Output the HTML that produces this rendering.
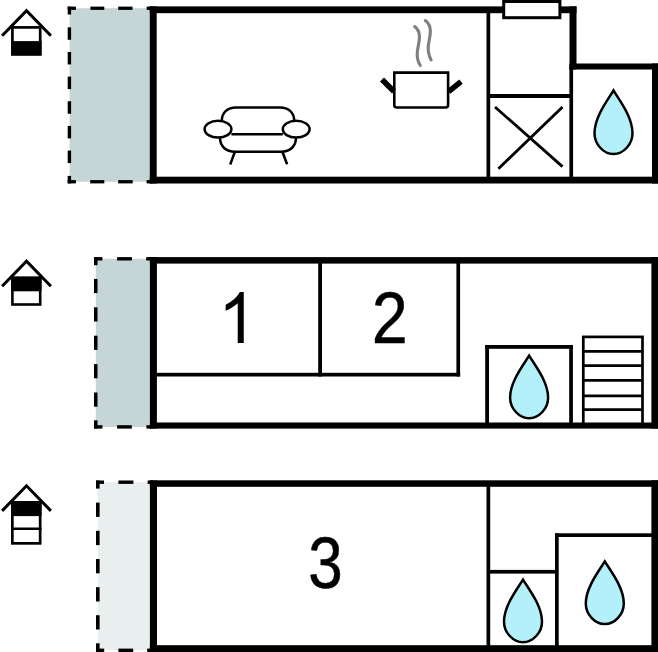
<!DOCTYPE html>
<html>
<head>
<meta charset="utf-8">
<title>Floor plan</title>
<style>
html,body{margin:0;padding:0;background:#fff;}
body{width:658px;height:652px;overflow:hidden;font-family:"Liberation Sans",sans-serif;}
svg{display:block;}
text{font-family:"Liberation Sans",sans-serif;fill:#000;}
</style>
</head>
<body>
<svg width="658" height="652" viewBox="0 0 658 652">
<defs>
  <path id="drop" d="M0 2.8 C-5.2 11.5,-19 29,-19 45.5 C-19 56.5,-10 66.3,0 66.3 C10 66.3,19 56.5,19 45.5 C19 29,5.2 11.5,0 2.8Z" fill="#b3f0f9" stroke="#000" stroke-width="2.5" stroke-linejoin="miter"/>
  <g id="roof" fill="none" stroke="#000" stroke-width="3" stroke-linecap="butt" stroke-linejoin="miter">
    <path d="M2.1 35.7 L26.5 10.6 L50.9 35.7"/>
  </g>
</defs>
<rect width="658" height="652" fill="#fff"/>

<!-- ================= FLOOR 1 ================= -->
<g id="f1">
  <rect x="69.6" y="8.2" width="81" height="173.6" fill="#c6d5d6"/>
  <!-- dashed -->
  <g fill="#000">
    <rect x="67.7" y="6.6" width="8.2" height="3.3"/>
    <rect x="67.7" y="6.6" width="3.4" height="7.9"/>
    <rect x="90.4" y="6.6" width="13.9" height="3.3"/>
    <rect x="118.2" y="6.6" width="14.3" height="3.3"/>
    <rect x="146.7" y="6.6" width="5" height="3.3"/>
    <rect x="67.7" y="27.3" width="3.4" height="12.5"/>
    <rect x="67.7" y="51.95" width="3.4" height="12.5"/>
    <rect x="67.7" y="76.6" width="3.4" height="12.5"/>
    <rect x="67.7" y="101.25" width="3.4" height="12.5"/>
    <rect x="67.7" y="125.9" width="3.4" height="12.5"/>
    <rect x="67.7" y="150.55" width="3.4" height="12.5"/>
    <rect x="67.7" y="175.9" width="3.4" height="7.5"/>
    <rect x="67.7" y="180.1" width="8.2" height="3.3"/>
    <rect x="90.2" y="180.1" width="14.1" height="3.3"/>
    <rect x="118.2" y="180.1" width="14.5" height="3.3"/>
    <rect x="146.6" y="180.1" width="5" height="3.3"/>
  </g>
  <!-- thick walls -->
  <g fill="#000">
    <rect x="149.8" y="6.4" width="426.7" height="6.8"/>
    <rect x="149.8" y="6.4" width="6.9" height="177.1"/>
    <rect x="149.8" y="176.7" width="508.2" height="6.8"/>
    <rect x="569.5" y="6.4" width="7" height="63.1"/>
    <rect x="569.5" y="63.5" width="88.5" height="6"/>
    <rect x="652" y="63.5" width="6" height="120"/>
    <!-- thin -->
    <rect x="486.5" y="10" width="3.7" height="170"/>
    <rect x="569.4" y="66" width="3.7" height="114"/>
    <rect x="488" y="94" width="83" height="4"/>
  </g>
  <!-- window -->
  <rect x="503.7" y="1.5" width="56.2" height="16.2" fill="#fff" stroke="#000" stroke-width="3"/>
  <!-- X -->
  <g stroke="#000" stroke-width="2.8" fill="none">
    <line x1="495" y1="107" x2="562.5" y2="166.6"/>
    <line x1="562.5" y1="107" x2="498.4" y2="168.7"/>
  </g>
  <!-- drop -->
  <use href="#drop" x="613.5" y="87.7"/>
  <!-- sofa -->
  <g fill="none" stroke="#000" stroke-width="2.5" stroke-linecap="butt">
    <path d="M221.8 121 L221.8 121 C221.8 112,228 107.5,236 107.5 L280 107.5 C288 107.5,294.2 112,294.2 121"/>
    <ellipse cx="218" cy="129.2" rx="13.4" ry="8.4" fill="#fff"/>
    <ellipse cx="296.2" cy="129.2" rx="13.4" ry="8.4" fill="#fff"/>
    <line x1="231.4" y1="134.2" x2="282.8" y2="134.2"/>
    <path d="M220 137.6 C220 146.5,226 151.7,235 151.7 L281 151.7 C290 151.7,296 146.5,296 137.6"/>
    <line x1="234.8" y1="152" x2="230.2" y2="164.5"/>
    <line x1="282.5" y1="152" x2="287.1" y2="164.2"/>
  </g>
  <!-- pot -->
  <g fill="none" stroke="#000">
    <path d="M394.3 72.6 L448.1 72.6 L448.1 105 Q448.1 107.5 445.6 107.5 L396.8 107.5 Q394.3 107.5 394.3 105 Z" stroke-width="2.6" fill="#fff"/>
    <line x1="382" y1="79.6" x2="394" y2="91.6" stroke-width="5.6"/>
    <line x1="461" y1="81.6" x2="448.6" y2="91.6" stroke-width="5.6"/>
  </g>
  <g fill="none" stroke="#7f7f7f" stroke-width="3.1" stroke-linecap="round">
    <path d="M414.7 26.6 C423 33,418 44,417.3 52 C416.8 58,418 62,420.3 65.5"/>
    <path d="M425.3 20.6 C434 27,429 38,428.3 46 C427.8 52,429 56,431.1 60"/>
  </g>
  <!-- icon -->
  <use href="#roof"/>
  <rect x="12.4" y="27.4" width="27.8" height="26.8" fill="#fff" stroke="#000" stroke-width="2.7"/>
  <rect x="11.05" y="41.1" width="30.5" height="14.45" fill="#000"/>
</g>

<!-- ================= FLOOR 2 ================= -->
<g id="f2">
  <rect x="95.8" y="258.8" width="55" height="168.2" fill="#c6d5d6"/>
  <g fill="#000">
    <rect x="94" y="257.1" width="8.4" height="3.4"/>
    <rect x="94" y="257.1" width="3.5" height="8.1"/>
    <rect x="117.1" y="257.1" width="14.8" height="3.4"/>
    <rect x="146.2" y="257.1" width="5" height="3.4"/>
    <rect x="94" y="278.9" width="3.5" height="14.2"/>
    <rect x="94" y="307.3" width="3.5" height="14.2"/>
    <rect x="94" y="335.7" width="3.5" height="14.2"/>
    <rect x="94" y="364.1" width="3.5" height="14.2"/>
    <rect x="94" y="392.5" width="3.5" height="14.2"/>
    <rect x="94" y="420.3" width="3.5" height="8.3"/>
    <rect x="94" y="425.2" width="8.4" height="3.4"/>
    <rect x="117.1" y="425.2" width="14.7" height="3.4"/>
    <rect x="146.4" y="425.2" width="5" height="3.4"/>
  </g>
  <g fill="#000">
    <rect x="149.9" y="257.1" width="508.1" height="6.5"/>
    <rect x="149.9" y="257.1" width="7" height="171.5"/>
    <rect x="149.9" y="422.5" width="508.1" height="6.1"/>
    <rect x="651.4" y="257.1" width="6.6" height="171.5"/>
    <!-- thin -->
    <rect x="155" y="372.8" width="305.1" height="3.7"/>
    <rect x="318.2" y="260" width="3.8" height="116.5"/>
    <rect x="456.4" y="260" width="3.7" height="116.5"/>
    <!-- bath box -->
    <rect x="485.2" y="345" width="87.7" height="3.8"/>
    <rect x="485.2" y="345" width="3.8" height="80"/>
    <rect x="569.2" y="345" width="3.7" height="80"/>
  </g>
  <use href="#drop" transform="translate(529.1 352.9) scale(1 0.985)"/>
  <!-- stairs -->
  <g fill="none" stroke="#000" stroke-width="2.7">
    <rect x="583.3" y="336.9" width="59.2" height="88"/>
    <line x1="583" y1="351.4" x2="643" y2="351.4"/>
    <line x1="583" y1="365.6" x2="643" y2="365.6"/>
    <line x1="583" y1="380.4" x2="643" y2="380.4"/>
    <line x1="583" y1="395.8" x2="643" y2="395.8"/>
    <line x1="583" y1="409.7" x2="643" y2="409.7"/>
  </g>
  <path transform="translate(218.2 343) scale(0.0335 -0.0347)" d="M763 0H583V1147Q518 1085 412.5 1023Q307 961 223 930V1104Q374 1175 487 1276Q600 1377 647 1472H763Z" fill="#000"/>
  <text transform="translate(389.8 342.9) scale(0.925 1.025)" font-size="70" text-anchor="middle" stroke="#000" stroke-width="0.4">2</text>
  <!-- icon -->
  <use href="#roof" y="250.5"/>
  <rect x="12.4" y="277.9" width="27.8" height="26.6" fill="#fff" stroke="#000" stroke-width="2.6"/>
  <rect x="11.1" y="276.6" width="30.4" height="14.7" fill="#000"/>
</g>

<!-- ================= FLOOR 3 ================= -->
<g id="f3">
  <rect x="97.8" y="482.2" width="53" height="168" fill="#e9eeee"/>
  <g fill="#000">
    <rect x="96" y="480.5" width="8" height="3.4"/>
    <rect x="96" y="480.5" width="3.6" height="8.1"/>
    <rect x="118.4" y="480.5" width="15" height="3.4"/>
    <rect x="147.6" y="480.5" width="5" height="3.4"/>
    <rect x="96" y="502.6" width="3.6" height="14.3"/>
    <rect x="96" y="530.8" width="3.6" height="14.3"/>
    <rect x="96" y="559" width="3.6" height="14.3"/>
    <rect x="96" y="587.2" width="3.6" height="14.3"/>
    <rect x="96" y="615.2" width="3.6" height="14.3"/>
    <rect x="96" y="643.3" width="3.6" height="8.7"/>
    <rect x="96" y="648.6" width="8.2" height="3.4"/>
    <rect x="118.4" y="648.6" width="14.8" height="3.4"/>
    <rect x="147.2" y="648.6" width="5" height="3.4"/>
  </g>
  <g fill="#000">
    <rect x="149.9" y="480.3" width="508.1" height="6.5"/>
    <rect x="149.9" y="480.5" width="7.1" height="171.5"/>
    <rect x="149.9" y="645.2" width="508.1" height="6.8"/>
    <rect x="651.4" y="480.3" width="6.6" height="171.7"/>
    <!-- thin -->
    <rect x="486.5" y="484" width="3.7" height="164"/>
    <rect x="555" y="533.3" width="100" height="3.7"/>
    <rect x="555" y="533.3" width="3.7" height="115"/>
    <rect x="488" y="569.9" width="69" height="3.7"/>
  </g>
  <use href="#drop" transform="translate(523 576.9) scale(1 0.985)"/>
  <use href="#drop" transform="translate(604.8 558.7) scale(1 0.985)"/>
  <text transform="translate(325.4 587.8) scale(0.885 1.022)" font-size="70" text-anchor="middle" stroke="#000" stroke-width="0.5">3</text>
  <!-- icon -->
  <use href="#roof" y="475.2"/>
  <rect x="12.35" y="502.5" width="27.8" height="40.85" fill="#fff" stroke="#000" stroke-width="2.7"/>
  <rect x="11" y="501.1" width="30.5" height="15" fill="#000"/>
  <rect x="11" y="527.5" width="30.5" height="2.5" fill="#000"/>
</g>
</svg>
</body>
</html>
